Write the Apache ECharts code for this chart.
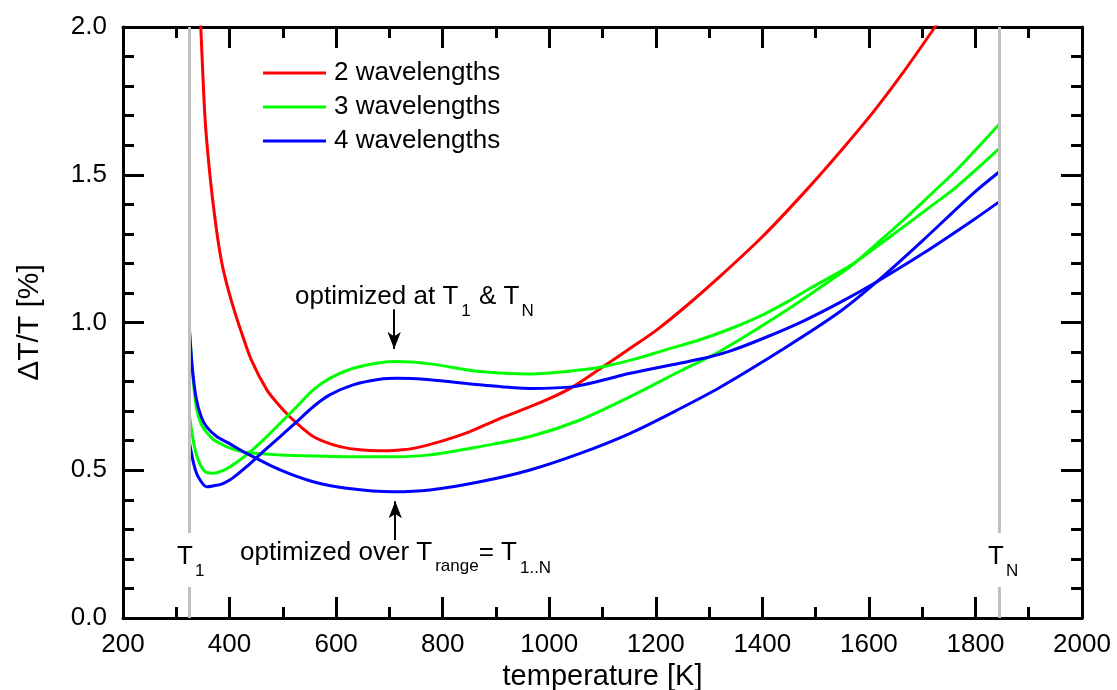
<!DOCTYPE html>
<html><head><meta charset="utf-8">
<script src="https://cdn.jsdelivr.net/npm/echarts@6/dist/echarts.min.js"></script>
<style>html,body{margin:0;padding:0;background:#fff}#c{width:1117px;height:690px}</style>
</head><body><div id="c"></div>
<script>
// ---------- data ----------
const xTicks = [200, 400, 600, 800, 1000, 1200, 1400, 1600, 1800, 2000];
const yTicks = [0.0, 0.5, 1.0, 1.5, 2.0];
const T1 = 325, TN = 1845;
const seriesNames = ['2 wavelengths', '3 wavelengths', '4 wavelengths'];

// 2 wavelengths
const red = [[336,2.42],[346,2.0],[354,1.69],[362,1.52],[370,1.39],[379,1.27],[388,1.18],[404,1.07],[423,0.963],[441,0.873],[470,0.772],[490,0.726],[513,0.681],[535,0.645],[557,0.614],[580,0.595],[607,0.580],[645,0.569],[682,0.566],[715,0.568],[745,0.574],[795,0.597],[850,0.630],[901,0.670],[950,0.705],[1000,0.742],[1045,0.783],[1101,0.850],[1150,0.910],[1202,0.975],[1260,1.06],[1320,1.155],[1400,1.29],[1477,1.437],[1546,1.578],[1608,1.712],[1665,1.848],[1724,2.0],[1740,2.045]];
// 3 wavelengths, optimized at T1 & TN
const greenEnds = [[325,0.681],[333,0.59],[341,0.535],[354,0.495],[369,0.49],[385,0.497],[401,0.512],[432,0.552],[463,0.602],[495,0.659],[526,0.715],[557,0.772],[588,0.811],[632,0.845],[682,0.864],[714,0.868],[776,0.860],[870,0.834],[964,0.826],[1058,0.839],[1101,0.850],[1160,0.876],[1214,0.905],[1280,0.940],[1339,0.978],[1400,1.025],[1450,1.073],[1489,1.115],[1546,1.172],[1571,1.20],[1620,1.264],[1671,1.332],[1720,1.398],[1765,1.46],[1845,1.589]];
// 3 wavelengths, optimized over range
const greenRange = [[325,0.975],[331,0.82],[338,0.71],[347,0.655],[357,0.628],[369,0.605],[385,0.588],[401,0.575],[432,0.560],[495,0.552],[560,0.548],[620,0.546],[714,0.546],[776,0.552],[870,0.580],[964,0.614],[1058,0.670],[1152,0.749],[1245,0.835],[1320,0.902],[1446,1.042],[1546,1.165],[1571,1.198],[1620,1.275],[1671,1.357],[1720,1.44],[1765,1.517],[1845,1.672]];
// 4 wavelengths, optimized at T1 & TN
const blueEnds = [[325,0.591],[333,0.52],[341,0.478],[357,0.444],[369,0.447],[385,0.453],[401,0.468],[416,0.488],[432,0.512],[463,0.563],[495,0.614],[526,0.664],[557,0.715],[588,0.755],[632,0.789],[682,0.808],[714,0.811],[776,0.806],[870,0.789],[964,0.777],[1045,0.783],[1152,0.828],[1245,0.862],[1300,0.883],[1339,0.903],[1400,0.945],[1477,1.005],[1546,1.068],[1615,1.138],[1702,1.234],[1796,1.347],[1845,1.409]];
// 4 wavelengths, optimized over range
const blueRange = [[325,0.964],[331,0.83],[338,0.738],[347,0.68],[357,0.647],[376,0.614],[400,0.59],[432,0.557],[495,0.501],[557,0.461],[620,0.439],[707,0.427],[776,0.433],[870,0.461],[964,0.501],[1058,0.557],[1152,0.625],[1245,0.708],[1320,0.780],[1446,0.918],[1546,1.037],[1615,1.138],[1702,1.279],[1796,1.437],[1845,1.51]];

// annotation arrows (data space)
const arrowTop = [[709, 1.045], [709, 0.91]];
const arrowBottom = [[711, 0.264], [711, 0.395]];
const markGap = [0.105, 0.288];

// ---------- chart ----------
const FONT = 'Liberation Sans';
const chart = echarts.init(document.getElementById('c'));

function xAxisCfg(pos, main) {
  return {
    type: 'value', position: pos,
    min: xTicks[0], max: xTicks[xTicks.length - 1], interval: xTicks[1] - xTicks[0],
    axisLine: { show: true, onZero: false, lineStyle: { color: '#000', width: 3 } },
    axisTick: { show: true, inside: true, length: 21, lineStyle: { color: '#000', width: 3 } },
    minorTick: { show: true, splitNumber: 2, length: 11, lineStyle: { color: '#000', width: 3 } },
    splitLine: { show: false },
    axisLabel: { show: main, color: '#000', fontSize: 26, fontFamily: FONT, margin: 14,
      formatter: v => String(v) },
    name: main ? 'temperature [K]' : '', nameLocation: 'middle', nameGap: 40,
    nameTextStyle: { color: '#000', fontSize: 29, fontFamily: FONT }
  };
}
function yAxisCfg(pos, main) {
  return {
    type: 'value', position: pos,
    min: yTicks[0], max: yTicks[yTicks.length - 1], interval: yTicks[1] - yTicks[0],
    axisLine: { show: true, onZero: false, lineStyle: { color: '#000', width: 3 } },
    axisTick: { show: true, inside: true, length: 21, lineStyle: { color: '#000', width: 3 } },
    minorTick: { show: true, splitNumber: 5, length: 11, lineStyle: { color: '#000', width: 3 } },
    splitLine: { show: false },
    axisLabel: { show: main, color: '#000', fontSize: 26, fontFamily: FONT, margin: 16,
      formatter: v => v.toFixed(1) },
    name: main ? 'ΔT/T [%]' : '', nameLocation: 'middle', nameGap: 78,
    nameTextStyle: { color: '#000', fontSize: 30, fontFamily: FONT }
  };
}
function lineSeries(name, data, color) {
  return { name, type: 'line', data, symbol: 'none', smooth: 0.3, clip: true,
    lineStyle: { color, width: 3 }, itemStyle: { color }, z: 3 };
}

const grayStyle = { color: '#c0c0c0', width: 3, type: 'solid' };
const option = {
  backgroundColor: '#fff',
  animation: false,
  grid: { left: 123, right: 35, top: 27, bottom: 72, containLabel: false, outerBoundsMode: 'none' },
  xAxis: [xAxisCfg('bottom', true), xAxisCfg('top', false)],
  yAxis: [yAxisCfg('left', true), yAxisCfg('right', false)],
  legend: {
    data: seriesNames, orient: 'vertical', left: 263, top: 60, padding: 0,
    icon: 'rect', itemWidth: 63, itemHeight: 3, itemGap: 8,
    textStyle: { color: '#000', fontSize: 26, fontFamily: FONT, padding: [0, 0, 0, 3] }
  },
  series: [
    { name: 'Tmarks', type: 'line', data: [], z: 1, silent: true,
      markLine: { silent: true, symbol: ['none', 'none'], animation: false,
        lineStyle: grayStyle, label: { show: false },
        data: [
          [{ coord: [T1, yTicks[0]] }, { coord: [T1, markGap[0]] }],
          [{ coord: [T1, markGap[1]] }, { coord: [T1, yTicks[yTicks.length - 1]] }],
          [{ coord: [TN, yTicks[0]] }, { coord: [TN, markGap[0]] }],
          [{ coord: [TN, markGap[1]] }, { coord: [TN, yTicks[yTicks.length - 1]] }]
        ] } },
    lineSeries(seriesNames[0], red, '#ff0000'),
    lineSeries(seriesNames[1], greenEnds, '#00ff00'),
    lineSeries(seriesNames[1], greenRange, '#00ff00'),
    lineSeries(seriesNames[2], blueEnds, '#0000ff'),
    lineSeries(seriesNames[2], blueRange, '#0000ff'),
    { name: 'arrows', type: 'line', data: [], z: 4, silent: true,
      markLine: { silent: true, symbol: ['none', 'arrow'], symbolSize: [10, 17], animation: false,
        lineStyle: { color: '#000', width: 2, type: 'solid' }, itemStyle: { color: '#000' },
        label: { show: false },
        data: [
          [{ coord: arrowTop[0] }, { coord: arrowTop[1] }],
          [{ coord: arrowBottom[0] }, { coord: arrowBottom[1] }]
        ] } }
  ],
  graphic: []
};

// text helpers (measured chaining for sub-scripted labels)
const mctx = document.createElement('canvas').getContext('2d');
function tw(t, size) { mctx.font = size + 'px "' + FONT + '"'; return mctx.measureText(t).width; }
function txt(t, x, yc, size) {
  return { type: 'text', x, y: yc, silent: true, z: 10,
    style: { text: t, fontSize: size, fontFamily: FONT, fill: '#000', align: 'left', verticalAlign: 'middle' } };
}
function chain(x, yc, parts) {
  const out = []; let cx = x;
  for (const p of parts) {
    cx += p.gap || 0;
    out.push(txt(p.t, cx, yc + (p.dy || 0), p.s));
    cx += tw(p.t, p.s);
  }
  return out;
}
const BIG = 26, SUB = 17;
option.graphic = [].concat(
  chain(295, 297, [{ t: 'optimized at T', s: BIG }, { t: '1', s: SUB, dy: 14, gap: 3 }, { t: ' & T', s: BIG, gap: 1 }, { t: 'N', s: SUB, dy: 14, gap: 2 }]),
  chain(240, 553, [{ t: 'optimized over T', s: BIG }, { t: 'range', s: SUB, dy: 13, gap: 3 }, { t: '= T', s: BIG, gap: 0 }, { t: '1..N', s: SUB, dy: 15, gap: 3 }]),
  chain(177, 557, [{ t: 'T', s: BIG }, { t: '1', s: SUB, dy: 14, gap: 2 }]),
  chain(988, 557, [{ t: 'T', s: BIG }, { t: 'N', s: SUB, dy: 14, gap: 2 }])
);

chart.setOption(option);
</script>
</body></html>
